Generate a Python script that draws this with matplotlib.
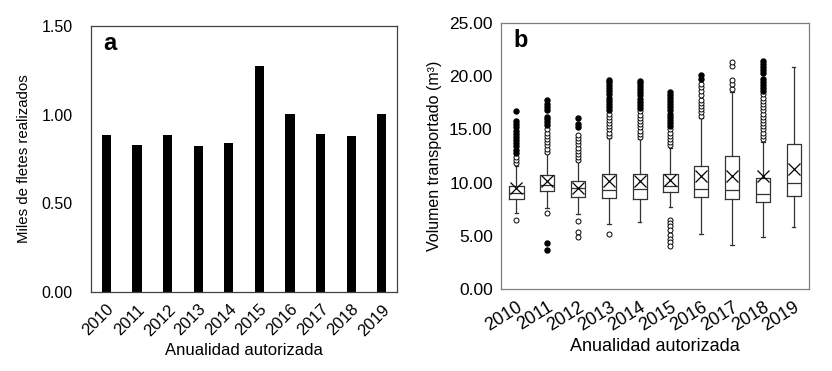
import numpy as np
import matplotlib
matplotlib.use('Agg')
from matplotlib import pyplot as plt

plt.rcParams['font.family'] = ['Liberation Sans', 'DejaVu Sans']

years = ['2010', '2011', '2012', '2013', '2014', '2015', '2016', '2017', '2018', '2019']

# panel a: thousands of freights
fletes = [0.887, 0.829, 0.887, 0.823, 0.842, 1.274, 1.002, 0.891, 0.880, 1.002]

# panel b: box stats per year (m3)
q1 = [8.45, 9.20, 8.67, 8.57, 8.41, 9.07, 8.67, 8.41, 8.19, 8.73]
med = [9.04, 9.76, 9.45, 9.26, 9.42, 9.67, 9.42, 9.29, 8.95, 9.95]
q3 = [9.70, 10.71, 10.11, 10.83, 10.77, 10.83, 11.59, 12.50, 10.46, 13.66]
mean = [9.45, 10.14, 9.51, 10.14, 10.14, 10.24, 10.64, 10.61, 10.64, 11.30]
whis_lo = [7.16, 7.57, 7.00, 6.06, 6.25, 7.72, 5.12, 4.11, 4.84, 5.84]
whis_hi = [11.6, 12.75, 12.0, 14.2, 14.1, 13.3, 16.1, 18.5, 13.85, 20.9]

# open-looking outliers
out_open = [
    [6.5, 11.8, 12.1, 12.4],
    [7.1, 12.9, 13.2, 13.5, 13.8, 14.1, 14.4, 14.7, 15.0],
    [6.4, 5.3, 4.9, 12.1, 12.4, 12.7, 13.0, 13.3, 13.6, 13.9, 14.2, 14.5],
    [5.15, 14.4, 14.7, 15.0, 15.3, 15.6, 15.9, 16.2, 16.5],
    [14.3, 14.6, 14.9, 15.2, 15.5, 15.8, 16.1, 16.4, 16.7],
    [6.5, 6.2, 5.9, 5.5, 5.1, 4.7, 4.4, 4.0, 13.5, 13.8, 14.1, 14.4, 14.7, 15.0],
    [16.3, 16.6, 16.9, 17.2, 17.5, 17.8, 18.2, 18.6, 19.0, 19.3],
    [18.8, 19.3, 19.7, 21.0, 21.4],
    [14.1, 14.4, 14.7, 15.0, 15.3, 15.6, 15.9, 16.2, 16.5, 16.8, 17.1, 17.4, 17.7, 18.0, 18.3],
    [],
]
# dense stacks of outliers (look filled)
out_dense = [
    [12.8, 13.1, 13.4, 13.7, 14.0, 14.3, 14.6, 14.9, 15.2, 15.5, 15.8, 16.7],
    [4.35, 3.65, 15.4, 15.7, 16.0, 16.2, 16.8, 17.1, 17.4, 17.75],
    [15.2, 15.5, 16.1],
    [16.8, 17.1, 17.4, 17.7, 18.0, 18.3, 18.6, 18.9, 19.2, 19.45, 19.7],
    [17.0, 17.3, 17.6, 17.9, 18.2, 18.5, 18.8, 19.1, 19.35, 19.55],
    [15.3, 15.6, 15.9, 16.2, 16.5, 16.8, 17.1, 17.4, 17.7, 18.0, 18.25, 18.5],
    [19.75, 20.1],
    [],
    [18.6, 18.9, 19.2, 19.5, 19.8, 20.3, 20.6, 20.9, 21.2, 21.45],
    [],
]

fig = plt.figure(figsize=(8.32, 3.71), dpi=100)
ax1 = fig.add_axes([0.1094, 0.2129, 0.3678, 0.7170])
ax2 = fig.add_axes([0.6022, 0.2218, 0.3702, 0.7154])

x = np.arange(len(years))

# ---- panel a
ax1.bar(x, fletes, width=0.3, color='black')
ax1.set_xlim(-0.5, len(years) - 0.5)
ax1.set_ylim(0, 1.5)
ax1.set_yticks([0, 0.5, 1.0, 1.5])
ax1.set_yticklabels(['0.00', '0.50', '1.00', '1.50'])
ax1.set_xticks(x)
ax1.set_xticklabels(years, rotation=45, ha='right', rotation_mode='anchor')
ax1.tick_params(axis='y', length=0, pad=13, labelsize=11.5)
ax1.tick_params(axis='x', length=0, pad=7, labelsize=12)
ax1.set_ylabel('Miles de fletes realizados', fontsize=10.8, labelpad=8)
ax1.set_xlabel('Anualidad autorizada', fontsize=12, labelpad=3)
for s in ax1.spines.values():
    s.set_color('#404040')
    s.set_linewidth(0.9)
ax1.text(0.062, 0.935, 'a', transform=ax1.transAxes, fontsize=17,
         fontweight='bold', ha='center', va='center')

# ---- panel b
stats = []
for i in range(len(years)):
    stats.append(dict(q1=q1[i], med=med[i], q3=q3[i], mean=mean[i],
                      whislo=whis_lo[i], whishi=whis_hi[i], fliers=out_open[i]))

line = dict(color='#333333', linewidth=0.9)
ax2.bxp(stats, positions=x, widths=0.46, showmeans=True, capwidths=0.12,
        boxprops=line, whiskerprops=line, capprops=line,
        medianprops=dict(color='#333333', linewidth=0.9),
        meanprops=dict(marker='x', markeredgecolor='black', markersize=8,
                       markeredgewidth=0.9),
        flierprops=dict(marker='o', markerfacecolor='white',
                        markeredgecolor='black', markersize=3.6,
                        markeredgewidth=0.7))
for i in range(len(years)):
    if out_dense[i]:
        ax2.plot([x[i]] * len(out_dense[i]), out_dense[i], 'o', color='black',
                 markersize=3.6, linestyle='none')

ax2.set_xlim(-0.5, len(years) - 0.5)
ax2.set_ylim(0, 25)
ax2.set_yticks([0, 5, 10, 15, 20, 25])
ax2.set_yticklabels(['0.00', '5.00', '10.00', '15.00', '20.00', '25.00'])
ax2.set_xticks(x)
ax2.set_xticklabels(years, rotation=32, ha='right', rotation_mode='anchor')
ax2.tick_params(axis='y', length=0, pad=6, labelsize=12.5)
ax2.tick_params(axis='x', length=0, pad=7, labelsize=13)
ax2.set_ylabel('Volumen transportado (m³)', fontsize=11.5, labelpad=5)
ax2.set_xlabel('Anualidad autorizada', fontsize=13, labelpad=3)
for s in ax2.spines.values():
    s.set_color('#7f7f7f')
    s.set_linewidth(0.9)
ax2.text(0.065, 0.935, 'b', transform=ax2.transAxes, fontsize=17,
         fontweight='bold', ha='center', va='center')

fig.savefig('out.png', dpi=100)
